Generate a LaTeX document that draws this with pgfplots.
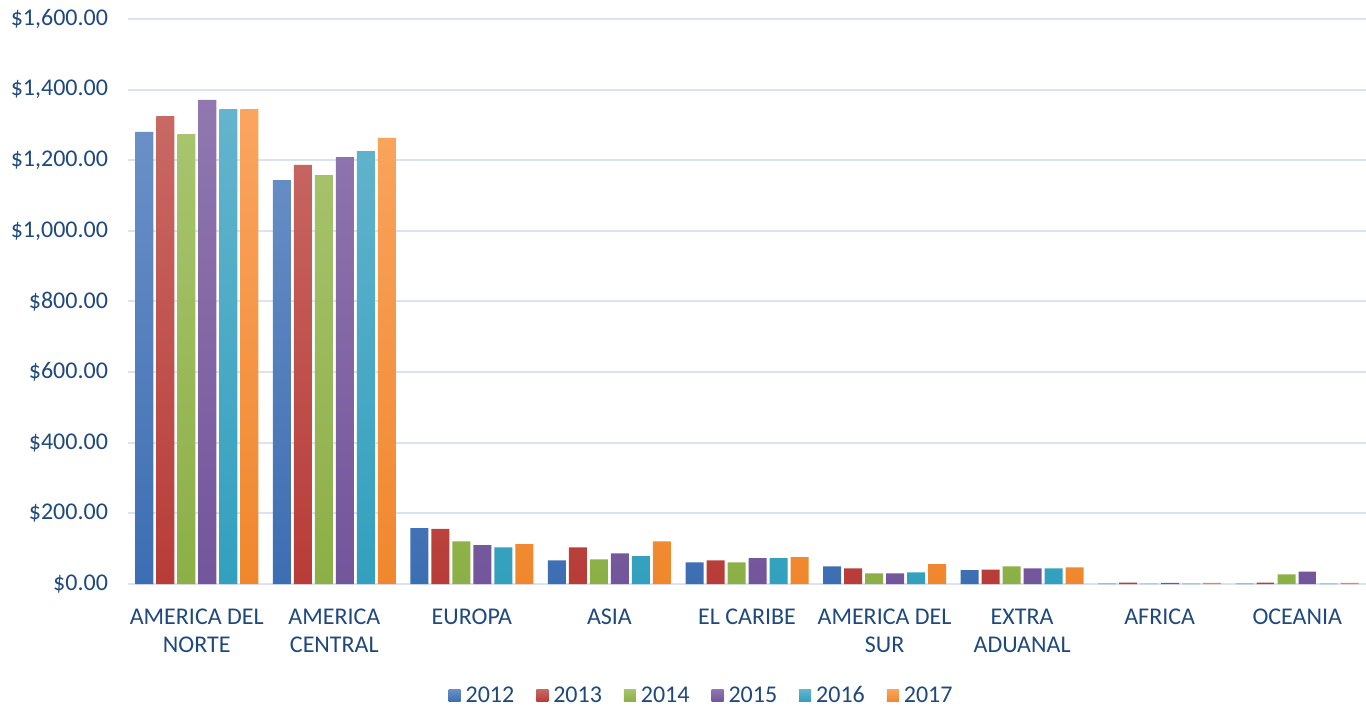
\documentclass[border=0pt]{standalone}
\usepackage{fontspec}
\setmainfont{Carlito}
\usepackage{pgfplots}
\usepackage{pgfplotstable}
\pgfplotsset{compat=1.18}

\definecolor{txt}{HTML}{1F497D}
\definecolor{gridc}{HTML}{D9E3F3}
\definecolor{bT}{HTML}{6B90C7}\definecolor{bB}{HTML}{3C6EB2}
\definecolor{rT}{HTML}{C86964}\definecolor{rB}{HTML}{B83C37}
\definecolor{gT}{HTML}{A8C46E}\definecolor{gB}{HTML}{8CAF46}
\definecolor{pT}{HTML}{9178AF}\definecolor{pB}{HTML}{73559B}
\definecolor{aT}{HTML}{64B4CD}\definecolor{aB}{HTML}{32A0BE}
\definecolor{oT}{HTML}{FAA55F}\definecolor{oB}{HTML}{F0872D}

% values by region, 2012..2017
\pgfplotstableread{
x  a    b    c    d    e    f
0  1280 1325 1274 1371 1345 1345
1  1144 1187 1158 1209 1226 1263
2  158  156  121  110  104  113
3  67   104  70   87   79   121
4  61   67   61   73   73   76
5  50   44   30   30   33   56
6  39   41   50   44   44   47
7  1    4    1    3    1    3
8  1    4    27   35   1    3
}\datatable

\begin{document}
\begin{tikzpicture}
\begin{axis}[
    at={(0,0)}, anchor=south west,
    scale only axis,
    width=928.5pt, height=423.75pt,
    xmin=-0.5, xmax=8.5,
    ymin=0, ymax=1600,
    ybar, bar width=13.5pt,
    xtick={0,...,8},
    xticklabels={{AMERICA DEL\\NORTE},{AMERICA\\CENTRAL},{EUROPA},{ASIA},{EL CARIBE},{AMERICA DEL\\SUR},{EXTRA\\ADUANAL},{AFRICA},{OCEANIA}},
    ytick={0,200,...,1600},
    yticklabels={{\$0.00},{\$200.00},{\$400.00},{\$600.00},{\$800.00},{\$1,000.00},{\$1,200.00},{\$1,400.00},{\$1,600.00}},
    major tick length=0pt,
    axis line style={draw=none},
    ymajorgrids,
    grid style={line width=1.5pt, draw=gridc},
    tick label style={font=\fontsize{18}{21}\selectfont, text=txt},
    xticklabel style={align=center, yshift=-15.5pt},
    yticklabel style={anchor=east, xshift=-11.5pt},
    clip=false,
    legend columns=6,
    legend style={at={(0.4625,-0.197)}, anchor=center, draw=none,
        font=\fontsize{18}{21}\selectfont, text=txt,
        /tikz/every odd column/.append style={column sep=3.75pt},
        /tikz/every even column/.append style={column sep=16.5pt},
        nodes={inner sep=0pt}},
    legend image code/.code={\path[#1, draw=none] (0pt,-4.5pt) rectangle (9pt,4.5pt);},
]
\addplot[draw=none, top color=bT, bottom color=bB, bar shift=-39.375pt] table[x=x,y=a]{\datatable};
\addplot[draw=none, top color=rT, bottom color=rB, bar shift=-23.625pt] table[x=x,y=b]{\datatable};
\addplot[draw=none, top color=gT, bottom color=gB, bar shift=-7.875pt] table[x=x,y=c]{\datatable};
\addplot[draw=none, top color=pT, bottom color=pB, bar shift=7.875pt] table[x=x,y=d]{\datatable};
\addplot[draw=none, top color=aT, bottom color=aB, bar shift=23.625pt] table[x=x,y=e]{\datatable};
\addplot[draw=none, top color=oT, bottom color=oB, bar shift=39.375pt] table[x=x,y=f]{\datatable};
\legend{2012,2013,2014,2015,2016,2017}
\end{axis}
\pgfresetboundingbox
\path (-96pt,-91.5pt) rectangle (928.5pt,438pt);
\end{tikzpicture}
\end{document}
